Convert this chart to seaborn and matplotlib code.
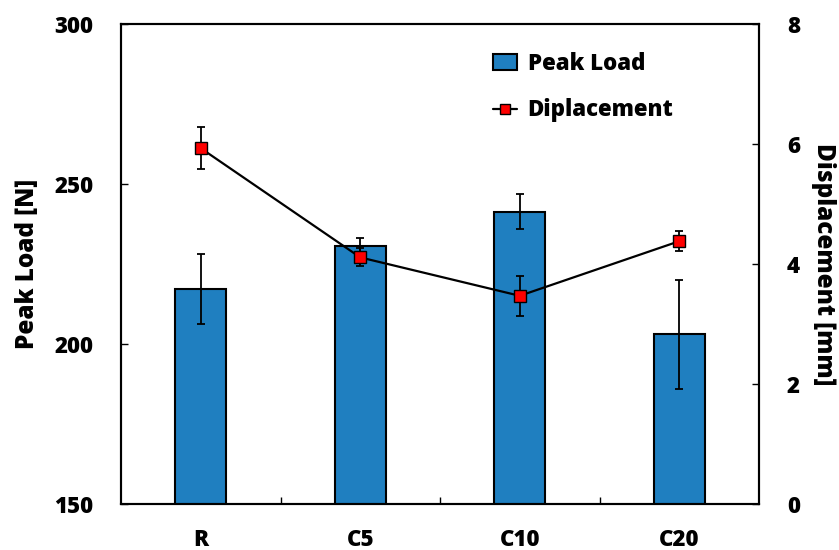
import matplotlib
matplotlib.use("Agg")
import matplotlib.pyplot as plt
import seaborn as sns
import pandas as pd
import numpy as np
from matplotlib.patches import Patch
from matplotlib.lines import Line2D

categories = ["R", "C5", "C10", "C20"]
peak_load = [217.2, 230.6, 241.3, 203.0]
peak_load_err = [11.0, 2.5, 5.5, 17.0]
displacement = [5.93, 4.11, 3.47, 4.38]
displacement_err = [0.35, 0.15, 0.33, 0.17]

sns.set_theme(style="white")
plt.rcParams['font.family'] = ['Open Sans', 'DejaVu Sans']
plt.rcParams['font.weight'] = 'bold'
plt.rcParams['text.color'] = 'black'
plt.rcParams['axes.labelcolor'] = 'black'
plt.rcParams['xtick.color'] = 'black'
plt.rcParams['ytick.color'] = 'black'

df = pd.DataFrame({"cat": categories, "load": peak_load, "disp": displacement})

fig = plt.figure(figsize=(8.39, 5.5), dpi=100)
ax = fig.add_axes([121/839, 46/550, 638/839, 480/550])

TICK_FS = 16
LABEL_FS = 17.5
W = "heavy"

bar_color = "#1f7fc0"
sns.barplot(data=df, x="cat", y="load", ax=ax, color=bar_color, width=0.32,
            edgecolor="black", linewidth=1.5, saturation=1)
xpos = np.arange(len(categories))
ax.errorbar(xpos, peak_load, yerr=peak_load_err, fmt="none", ecolor="black",
            elinewidth=1.3, capsize=2.8, capthick=1.3, zorder=5)
ax.set_ylim(150, 300)
ax.set_xlim(-0.5, 3.5)
ax.set_yticks([150, 200, 250, 300])
ax.set_xlabel("")
ax.set_ylabel("Peak Load [N]", fontsize=LABEL_FS, fontweight=W, labelpad=10, color="black")
ax.set_xticks(xpos)
ax.set_xticklabels(categories)
ax.tick_params(axis="x", length=0, pad=17, labelsize=TICK_FS, colors="black")
ax.tick_params(axis="y", direction="in", length=5, width=1, pad=20, labelsize=TICK_FS, colors="black")
for lab in ax.get_xticklabels() + ax.get_yticklabels():
    lab.set_fontweight(W)
# ticks between categories
ax.set_xticks([0.5, 1.5, 2.5], minor=True)
ax.tick_params(axis="x", which="minor", direction="in", length=5, width=1, bottom=True)

ax2 = ax.twinx()
sns.lineplot(data=df, x="cat", y="disp", ax=ax2, color="black", linewidth=1.6,
             marker="s", markersize=9, markerfacecolor="#ff0000",
             markeredgecolor="black", markeredgewidth=1, zorder=6)
ax2.errorbar(xpos, displacement, yerr=displacement_err, fmt="none", ecolor="black",
             elinewidth=1.3, capsize=2.8, capthick=1.3, zorder=4)
ax2.set_ylim(0, 8)
ax2.set_yticks([0, 2, 4, 6, 8])
ax2.set_ylabel("Displacement [mm]", fontsize=LABEL_FS, fontweight=W, rotation=270,
               labelpad=26, color="black")
ax2.tick_params(axis="y", direction="in", length=5, width=1, pad=20, labelsize=TICK_FS,
                right=True, colors="black")
for lab in ax2.get_yticklabels():
    lab.set_fontweight(W)
ax2.set_xlabel("")

for a in (ax, ax2):
    for s in a.spines.values():
        s.set_color("black")
        s.set_linewidth(1.5)

handles = [Patch(facecolor=bar_color, edgecolor="black", linewidth=1.5),
           Line2D([], [], color="black", linewidth=1.6, marker="s", markersize=7,
                  markerfacecolor="#ff0000", markeredgecolor="black")]
leg = ax2.legend(handles, ["Peak Load", "Diplacement"], loc="upper left",
                 bbox_to_anchor=(0.552, 0.984), frameon=False,
                 prop={"size": 16, "weight": W}, handlelength=1.05,
                 handletextpad=0.5, labelspacing=1.02)

fig.savefig("out.png", dpi=100)
